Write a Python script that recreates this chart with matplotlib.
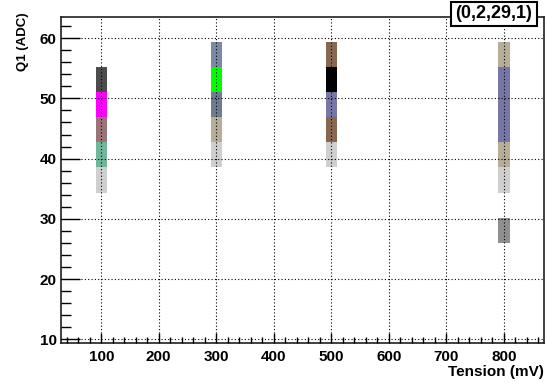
import numpy as np
import matplotlib
matplotlib.use("Agg")
import matplotlib.pyplot as plt
from matplotlib.colors import ListedColormap, BoundaryNorm
from matplotlib.patches import Rectangle
from matplotlib.ticker import MultipleLocator

plt.rcParams['font.family'] = ['Liberation Sans', 'DejaVu Sans']
plt.rcParams['font.weight'] = 'bold'

# ---- data ----
title_text = "(0,2,29,1)"
x_label = "Tension (mV)"
y_label = "Q1 (ADC)"

x_min, x_max, n_xbins = 30.0, 870.0, 42
y_min, y_max, n_ybins = 9.4, 63.5, 13

tensions = [100, 300, 500, 800]
# colour level of each Q1 bin (bin 0 = lowest), 0 = empty
levels_100 = [0, 0, 0, 0, 0, 0, 1, 7, 5, 11, 3, 0, 0]
levels_300 = [0, 0, 0, 0, 0, 0, 0, 1, 4, 9, 12, 8, 0]
levels_500 = [0, 0, 0, 0, 0, 0, 0, 1, 6, 10, 13, 6, 0]
levels_800 = [0, 0, 0, 0, 2, 0, 1, 4, 10, 10, 10, 4, 0]

palette = ['#cfcfcf', '#8f8f8f', '#4c4c4c', '#b6ae98', '#9a7476', '#886750',
           '#6fb79a', '#7b8aa3', '#6e7c92', '#7777a7', '#ff00ff', '#00ff00', '#000000']

x_ticks = [100, 200, 300, 400, 500, 600, 700, 800]
y_ticks = [10, 20, 30, 40, 50, 60]

# ---- figure ----
W, H, DPI = 548, 386, 100
fig = plt.figure(figsize=(W / DPI, H / DPI), dpi=DPI)
L, R, T, B = 61, 544, 17, 343
ax = fig.add_axes([L / W, 1 - B / H, (R - L) / W, (B - T) / H])

x_edges = np.linspace(x_min, x_max, n_xbins + 1)
y_edges = np.linspace(y_min, y_max, n_ybins + 1)
x_centers = 0.5 * (x_edges[:-1] + x_edges[1:])

Z = np.zeros((n_ybins, n_xbins))
for t, lev in zip(tensions, [levels_100, levels_300, levels_500, levels_800]):
    j = int(np.argmin(np.abs(x_centers - t)))
    Z[:, j] = lev
Zm = np.ma.masked_equal(Z, 0)

cmap = ListedColormap(palette)
norm = BoundaryNorm(np.arange(0.5, len(palette) + 1.5, 1), cmap.N)
ax.pcolormesh(x_edges, y_edges, Zm, cmap=cmap, norm=norm, zorder=1,
              edgecolors='none', antialiased=False)

ax.set_xlim(x_min, x_max)
ax.set_ylim(y_min, y_max)

ax.set_xticks(x_ticks)
ax.set_yticks(y_ticks)
ax.xaxis.set_minor_locator(MultipleLocator(20))
ax.yaxis.set_minor_locator(MultipleLocator(2))
ax.tick_params(axis='x', which='major', direction='in', length=7, width=1,
               labelsize=11, pad=5, top=False)
ax.tick_params(axis='x', which='minor', direction='in', length=4, width=1, top=False)
ax.tick_params(axis='y', which='major', direction='in', length=14, width=1,
               labelsize=11, pad=3, right=False)
ax.tick_params(axis='y', which='minor', direction='in', length=7, width=1, right=False)
for lab in ax.get_xticklabels() + ax.get_yticklabels():
    lab.set_fontweight('bold')

ax.grid(True, which='major', color='black', linestyle=(0, (1, 2)), linewidth=0.8, zorder=2)
ax.set_axisbelow(False)
for s in ax.spines.values():
    s.set_linewidth(1.2)
    s.set_color('#202020')

fig.text(R / W, 1 - 372 / H, x_label, ha='right', va='center', fontsize=11, fontweight='bold')
fig.text(23 / W, 1 - 12 / H, y_label, ha='center', va='top', rotation=90,
         fontsize=9.5, fontweight='bold')

# title box
bx0, bx1, by0, by1 = 451, 537, 2, 26
fig.patches.append(Rectangle((bx0 / W, 1 - by1 / H), (bx1 - bx0) / W, (by1 - by0) / H,
                             transform=fig.transFigure, facecolor='white',
                             edgecolor='black', linewidth=1.5, zorder=5))
fig.text((bx0 + bx1) / 2 / W, 1 - (by0 + by1) / 2 / H, title_text, ha='center', va='center',
         fontsize=13, fontweight='bold', zorder=6)

fig.savefig("out.png", dpi=DPI)
